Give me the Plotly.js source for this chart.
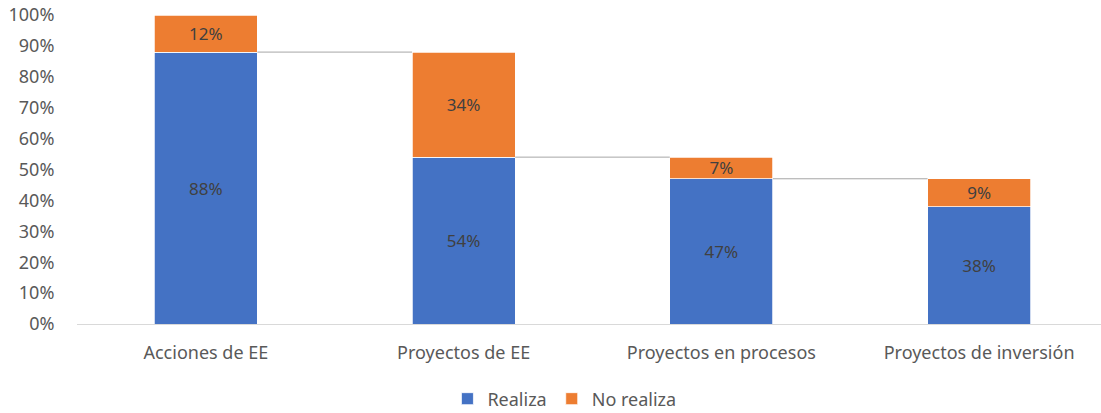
<!DOCTYPE html>
<html>
<head>
<meta charset="utf-8">
<script src="https://cdn.plot.ly/plotly-3.0.1.min.js"></script>
<style>html,body{margin:0;padding:0;background:#fff;}#chart{width:1101px;height:413px;}</style>
</head>
<body>
<div id="chart"></div>
<script>
const categories = ["Acciones de EE", "Proyectos de EE", "Proyectos en procesos", "Proyectos de inversión"];
const realiza = [88, 54, 47, 38];
const noRealiza = [12, 34, 7, 9];
const yTicks = [0, 10, 20, 30, 40, 50, 60, 70, 80, 90, 100];

const FONT = "Noto Sans, sans-serif";
const BAR_W = 0.4;
const xIdx = categories.map((_, i) => i);

const traces = [
  {
    type: "bar", name: "Realiza", x: xIdx, y: realiza, width: BAR_W,
    text: realiza.map(v => v + "%"), textposition: "inside", insidetextanchor: "middle",
    constraintext: "none",
    textfont: {color: "#404040", size: 17, family: FONT},
    marker: {color: "#4472C4", line: {color: "#FFFFFF", width: 0.75}},
    hoverinfo: "skip"
  },
  {
    type: "bar", name: "No realiza", x: xIdx, y: noRealiza, width: BAR_W,
    text: noRealiza.map(v => v + "%"), textposition: "inside", insidetextanchor: "middle",
    constraintext: "none",
    textfont: {color: "#404040", size: 17, family: FONT},
    marker: {color: "#ED7D31", line: {color: "#FFFFFF", width: 0.75}},
    hoverinfo: "skip"
  }
];

const shapes = [];
for (let i = 0; i < categories.length - 1; i++) {
  shapes.push({
    type: "line", xref: "x", yref: "y",
    x0: i + BAR_W / 2, x1: i + 1 - BAR_W / 2, y0: realiza[i], y1: realiza[i],
    line: {color: "#A6A6A6", width: 1}
  });
}

const layout = {
  width: 1101, height: 413,
  margin: {l: 77, r: 0, t: 15, b: 89},
  paper_bgcolor: "#FFFFFF", plot_bgcolor: "#FFFFFF",
  barmode: "stack",
  font: {family: FONT, color: "#595959", size: 17},
  showlegend: true,
  legend: {orientation: "h", x: 0.476, xanchor: "center",
           yref: "container", y: 0.034, yanchor: "middle",
           font: {size: 18, color: "#595959", family: FONT}, traceorder: "normal",
           itemwidth: 30, tracegroupgap: 0},
  xaxis: {
    range: [-0.5, 3.473], tickmode: "array", tickvals: xIdx, ticktext: categories,
    showgrid: false, zeroline: false, showline: true, linecolor: "#D9D9D9", linewidth: 1,
    ticks: "outside", ticklen: 12, tickcolor: "rgba(0,0,0,0)",
    tickfont: {size: 18, color: "#595959", family: FONT}, fixedrange: true
  },
  yaxis: {
    range: [0, 100], tickmode: "array", tickvals: yTicks, ticktext: yTicks.map(v => v + "%"),
    showgrid: false, zeroline: false, showline: false,
    ticks: "outside", ticklen: 18, tickcolor: "rgba(0,0,0,0)",
    tickfont: {size: 18, color: "#595959", family: FONT}, fixedrange: true
  },
  shapes: shapes,
  uniformtext: {mode: false}
};

Plotly.newPlot("chart", traces, layout, {displayModeBar: false, staticPlot: true});
</script>
</body>
</html>
